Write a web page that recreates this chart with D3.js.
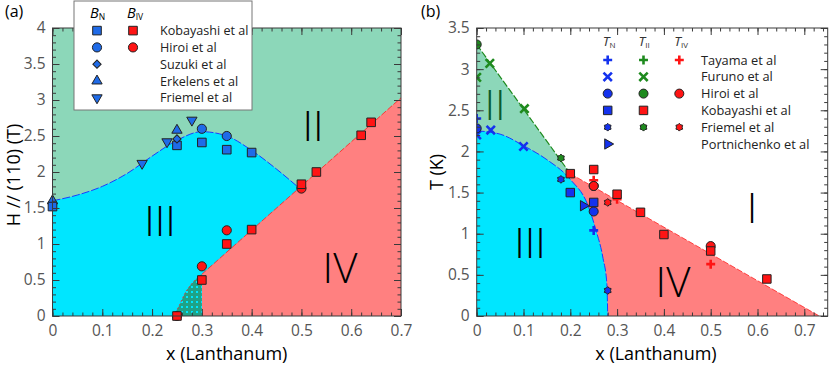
<!DOCTYPE html>
<html>
<head>
<meta charset="utf-8">
<script src="https://cdn.jsdelivr.net/npm/d3@7"></script>
<style>
body { margin: 0; background: #fff; }
text { font-family: "Open Sans", sans-serif; }
</style>
</head>
<body>
<svg id="chart" width="830" height="368"></svg>
<script>
////////////////// data, panel (a) ////////////////////
const xTicksA = [0, 0.1, 0.2, 0.3, 0.4, 0.5, 0.6, 0.7];
const hTicksA = [0, 0.5, 1, 1.5, 2, 2.5, 3, 3.5, 4];
// B_N (blue) and B_IV (red) points, [x, H]
const bnKobayashi = [[0, 1.52], [0.25, 2.37], [0.3, 2.41], [0.35, 2.31], [0.4, 2.27]];
const bnHiroi = [[0.3, 2.6], [0.35, 2.5]];
const bnSuzuki = [[0.25, 2.46]];
const bnErkelens = [[0, 1.6], [0.25, 2.58]];
const bnFriemel = [[0.18, 2.12], [0.23, 2.42], [0.28, 2.72]];
const bivKobayashi = [[0.25, 0], [0.3, 0.5], [0.35, 1.0], [0.4, 1.2], [0.5, 1.83], [0.53, 2.0], [0.62, 2.51], [0.64, 2.69]];
const bivHiroi = [[0.25, 0], [0.3, 0.69], [0.35, 1.19], [0.5, 1.77]];
// phase boundaries
const boundNA = [[0, 1.6], [0.05, 1.68], [0.1, 1.8], [0.15, 1.98], [0.2, 2.22], [0.25, 2.44], [0.3, 2.56], [0.35, 2.5], [0.4, 2.3], [0.45, 2.04], [0.495, 1.78]];
const boundIVA = [[0.3, 0.58], [0.7, 3.03]];
const boundHatchA = [[0.243, 0], [0.255, 0.15], [0.265, 0.3], [0.28, 0.45], [0.3, 0.58]];
const legendA = ["Kobayashi et al", "Hiroi et al", "Suzuki et al", "Erkelens et al", "Friemel et al"];

////////////////// data, panel (b) ////////////////////
const xTicksB = [0, 0.1, 0.2, 0.3, 0.4, 0.5, 0.6, 0.7];
const tTicksB = [0, 0.5, 1, 1.5, 2, 2.5, 3, 3.5];
// T_N (blue)
const tnTayama = [[0, 2.4], [0.25, 1.04]];
const tnFuruno = [[0, 2.2], [0.03, 2.26], [0.1, 2.06]];
const tnHiroi = [[0, 2.28], [0.25, 1.27]];
const tnKobayashi = [[0.2, 1.5], [0.25, 1.38]];
const tnFriemel = [[0.18, 1.66], [0.28, 0.31]];
const tnPortnichenko = [[0.228, 1.34]];
// T_II (green, Kobayashi in red)
const tiiTayama = [[0.25, 1.6]];
const tiiFuruno = [[0, 2.9], [0.028, 3.07], [0.102, 2.52]];
const tiiHiroi = [[0, 3.3], [0.25, 1.58]];
const tiiKobayashi = [[0.2, 1.73], [0.25, 1.78], [0.3, 1.48], [0.35, 1.26], [0.4, 0.99], [0.5, 0.79], [0.62, 0.45]];
const tiiFriemel = [[0.18, 1.92]];
// T_IV (red)
const tivTayama = [[0.25, 1.65], [0.3, 1.42], [0.5, 0.63]];
const tivHiroi = [[0.25, 1.58], [0.5, 0.85]];
const tivFriemel = [[0.28, 1.38]];
// boundaries
const boundIIB = [[0, 3.3], [0.2, 1.73]];
const boundIB = [[0.2, 1.73], [0.732, 0]];
const boundNB = [[0, 2.25], [0.05, 2.21], [0.1, 2.07], [0.15, 1.9], [0.2, 1.66], [0.238, 1.34], [0.255, 1.04], [0.27, 0.7], [0.278, 0.4], [0.28, 0]];
const legendB = ["Tayama et al", "Furuno et al", "Hiroi et al", "Kobayashi et al", "Friemel et al", "Portnichenko et al"];

////////////////// styles ////////////////////
const cGreen = "#8cd7b9", cCyan = "#00e6ff", cRed = "#ff8080";
const blueA = "#1f6be8", blueB = "#1432ee", greenB = "#1e8a1e", redM = "#ff1414";
const frameCol = "#3a3a3a", tickTextCol = "#555";

const svg = d3.select("#chart");
const defs = svg.append("defs");
const pat = defs.append("pattern").attr("id", "checks")
    .attr("patternUnits", "userSpaceOnUse").attr("width", 5).attr("height", 5);
pat.append("rect").attr("width", 5).attr("height", 5).attr("fill", "#1fa286");
pat.append("rect").attr("x", 1).attr("y", 1).attr("width", 2).attr("height", 2).attr("fill", cCyan);

// custom marker shapes
const symPlus = { draw(c, s) { const r = Math.sqrt(s) / 2; c.moveTo(-r, 0); c.lineTo(r, 0); c.moveTo(0, -r); c.lineTo(0, r); } };
const symX = { draw(c, s) { const r = Math.sqrt(s) / 2; c.moveTo(-r, -r); c.lineTo(r, r); c.moveTo(-r, r); c.lineTo(r, -r); } };
const symHex = { draw(c, s) {
    const r = Math.sqrt(s) / 2 * 1.1;
    for (let i = 0; i < 12; i++) {
        const rr = i % 2 ? r * 0.72 : r, a = i * Math.PI / 6 - Math.PI / 2;
        i ? c.lineTo(rr * Math.cos(a), rr * Math.sin(a)) : c.moveTo(rr * Math.cos(a), rr * Math.sin(a));
    }
    c.closePath();
} };

function drawPoints(g, data, x, y, type, size, fill, rot) {
    const lined = (type === symPlus || type === symX);
    g.selectAll(null).data(data).enter().append("path")
        .attr("d", d3.symbol().type(type).size(size))
        .attr("transform", d => `translate(${x(d[0])},${y(d[1])}) rotate(${rot || 0})`)
        .attr("fill", lined ? "none" : fill)
        .attr("stroke", lined ? fill : "#222")
        .attr("stroke-width", lined ? 2.6 : 1);
}

function drawFrame(g, x, y, xt, yt, xMinor, yMinor) {
    const [x0, x1] = x.range(), [y0, y1] = y.range();
    const mk = (axis, tr) => g.append("g").attr("transform", tr).call(axis)
        .call(s => s.select(".domain").remove())
        .call(s => s.selectAll("line").attr("stroke", frameCol));
    // minor ticks on all sides
    mk(d3.axisBottom(x).tickValues(xMinor).tickSize(-3.5).tickFormat(""), `translate(0,${y0})`);
    mk(d3.axisTop(x).tickValues(xMinor).tickSize(-3.5).tickFormat(""), `translate(0,${y1})`);
    mk(d3.axisLeft(y).tickValues(yMinor).tickSize(-3.5).tickFormat(""), `translate(${x0},0)`);
    mk(d3.axisRight(y).tickValues(yMinor).tickSize(-3.5).tickFormat(""), `translate(${x1},0)`);
    // major ticks
    const bx = mk(d3.axisBottom(x).tickValues(xt).tickSize(-7).tickPadding(9).tickFormat(d => d === 0 ? "0" : d3.format(".1f")(d)), `translate(0,${y0})`);
    mk(d3.axisTop(x).tickValues(xt).tickSize(-7).tickFormat(""), `translate(0,${y1})`);
    const ly = mk(d3.axisLeft(y).tickValues(yt).tickSize(-7).tickPadding(7).tickFormat(d => String(d)), `translate(${x0},0)`);
    mk(d3.axisRight(y).tickValues(yt).tickSize(-7).tickFormat(""), `translate(${x1},0)`);
    [bx, ly].forEach(s => s.selectAll("text").attr("fill", tickTextCol)
        .attr("font-size", 15.5).attr("font-family", "Open Sans, sans-serif"));
    g.append("rect").attr("x", x0).attr("y", y1).attr("width", x1 - x0).attr("height", y0 - y1)
        .attr("fill", "none").attr("stroke", frameCol).attr("stroke-width", 1);
}

const roman = (g, t, x, y, col) => g.append("text").attr("x", x).attr("y", y)
    .attr("text-anchor", "middle").attr("font-size", 42).attr("font-weight", 300)
    .attr("fill", col || "#000").text(t);
const px = v => v; // identity for legend positions given in pixels

////////////////// panel (a) ////////////////////
const xA = d3.scaleLinear([0, 0.7], [52.5, 401]);
const yA = d3.scaleLinear([0, 4], [316, 28]);
const gA = svg.append("g");
defs.append("clipPath").attr("id", "clipA").append("rect")
    .attr("x", 52.5).attr("y", 28).attr("width", 401 - 52.5).attr("height", 316 - 28);
const regA = gA.append("g").attr("clip-path", "url(#clipA)");
const lineA = d3.line().x(d => xA(d[0])).y(d => yA(d[1]));
const curveA = d3.line().x(d => xA(d[0])).y(d => yA(d[1])).curve(d3.curveMonotoneX);

regA.append("rect").attr("x", 52.5).attr("y", 28).attr("width", 401 - 52.5).attr("height", 288).attr("fill", cGreen);
regA.append("path").datum(boundNA)
    .attr("d", d3.area().x(d => xA(d[0])).y0(yA(0)).y1(d => yA(d[1])).curve(d3.curveMonotoneX))
    .attr("fill", cCyan);
regA.append("path")
    .attr("d", lineA([[0.3, 0], ...boundIVA, [0.7, 0]]) + "Z")
    .attr("fill", cRed);
regA.append("path")
    .attr("d", curveA(boundHatchA) + "L" + xA(0.3) + "," + yA(0) + "Z")
    .attr("fill", "url(#checks)");
regA.append("path").attr("d", curveA(boundNA)).attr("fill", "none")
    .attr("stroke", "#1a3cff").attr("stroke-width", 1).attr("stroke-dasharray", "8,2");
regA.append("path").attr("d", lineA(boundIVA)).attr("fill", "none")
    .attr("stroke", "#ff2020").attr("stroke-width", 0.8).attr("stroke-dasharray", "6,2");
regA.append("path").attr("d", curveA(boundHatchA)).attr("fill", "none")
    .attr("stroke", "#ff2020").attr("stroke-width", 0.8).attr("stroke-dasharray", "2,2");

roman(gA, "III", 160, 236);
roman(gA, "II", 313, 141);
roman(gA, "IV", 340, 283);

const mA = gA.append("g");
drawPoints(mA, bnFriemel, xA, yA, d3.symbolTriangle, 46, blueA, 180);
drawPoints(mA, bnErkelens, xA, yA, d3.symbolTriangle, 46, blueA);
drawPoints(mA, bnKobayashi, xA, yA, d3.symbolSquare, 74, blueA);
drawPoints(mA, bnSuzuki, xA, yA, d3.symbolSquare, 34, blueA, 45);
drawPoints(mA, bnHiroi, xA, yA, d3.symbolCircle, 66, blueA);
drawPoints(mA, bivHiroi, xA, yA, d3.symbolCircle, 66, redM);
drawPoints(mA, bivKobayashi, xA, yA, d3.symbolSquare, 74, redM);

drawFrame(gA, xA, yA, xTicksA, hTicksA, d3.range(0, 0.7001, 0.02), d3.range(0, 4.001, 0.1));

// legend (a)
const legA = gA.append("g");
legA.append("rect").attr("x", 74).attr("y", 1).attr("width", 178).attr("height", 109)
    .attr("fill", "#fff").attr("stroke", "#777");
[["B", "N", 96], ["B", "IV", 133]].forEach(h => {
    const t = legA.append("text").attr("x", h[2] - 6).attr("y", 18).attr("font-size", 14.5);
    t.append("tspan").attr("font-style", "italic").text(h[0]);
    t.append("tspan").attr("font-size", 8.5).attr("dy", 2).text(h[1]);
});
const rowsA = [30.6, 47.4, 64.2, 81, 97.8];
legendA.forEach((n, i) => legA.append("text").attr("x", 160).attr("y", rowsA[i]).attr("dy", "0.36em")
    .attr("font-size", 12.6).attr("fill", "#222").text(n));
drawPoints(legA, [[97, rowsA[0]]], px, px, d3.symbolSquare, 74, blueA);
drawPoints(legA, [[133, rowsA[0]]], px, px, d3.symbolSquare, 74, redM);
drawPoints(legA, [[97, rowsA[1]]], px, px, d3.symbolCircle, 66, blueA);
drawPoints(legA, [[133, rowsA[1]]], px, px, d3.symbolCircle, 66, redM);
drawPoints(legA, [[97, rowsA[2]]], px, px, d3.symbolSquare, 34, blueA, 45);
drawPoints(legA, [[97, rowsA[3]]], px, px, d3.symbolTriangle, 46, blueA);
drawPoints(legA, [[97, rowsA[4]]], px, px, d3.symbolTriangle, 46, blueA, 180);

gA.append("text").attr("x", 5).attr("y", 17).attr("font-size", 16).text("(a)");
gA.append("text").attr("x", xA(0.35)).attr("y", 360).attr("text-anchor", "middle")
    .attr("font-size", 18).text("x (Lanthanum)");
gA.append("text").attr("transform", "translate(20,175) rotate(-90)").attr("text-anchor", "middle")
    .attr("font-size", 18).text("H // (110) (T)");

////////////////// panel (b) ////////////////////
const xB = d3.scaleLinear([0, 0.75], [476.7, 827.7]);
const yB = d3.scaleLinear([0, 3.5], [316, 28]);
const gB = svg.append("g");
defs.append("clipPath").attr("id", "clipB").append("rect")
    .attr("x", 476.7).attr("y", 28).attr("width", 351).attr("height", 288);
const regB = gB.append("g").attr("clip-path", "url(#clipB)");
const lineB = d3.line().x(d => xB(d[0])).y(d => yB(d[1]));
const curveB = d3.line().x(d => xB(d[0])).y(d => yB(d[1])).curve(d3.curveMonotoneX);

regB.append("path").attr("d", lineB([[0, 0], ...boundIIB, [0.2, 0]]) + "Z").attr("fill", cGreen);
regB.append("path").attr("d", lineB([...boundIB, [0.2, 0]]) + "Z").attr("fill", cRed);
regB.append("path").datum(boundNB)
    .attr("d", d3.area().x(d => xB(d[0])).y0(yB(0)).y1(d => yB(d[1])).curve(d3.curveMonotoneX))
    .attr("fill", cCyan);
regB.append("path").attr("d", lineB(boundIIB)).attr("fill", "none")
    .attr("stroke", greenB).attr("stroke-width", 1.2).attr("stroke-dasharray", "7,2");
regB.append("path").attr("d", lineB(boundIB)).attr("fill", "none")
    .attr("stroke", "#ff2020").attr("stroke-width", 0.8).attr("stroke-dasharray", "6,2");
regB.append("path").attr("d", curveB(boundNB)).attr("fill", "none")
    .attr("stroke", "#1a3cff").attr("stroke-width", 1).attr("stroke-dasharray", "8,2");

roman(gB, "II", 495, 120, "#0b5a2c");
roman(gB, "III", 530, 258);
roman(gB, "IV", 673, 297);
roman(gB, "I", 752, 223);

const mB = gB.append("g").attr("clip-path", "url(#clipB)");
drawPoints(mB, tnFuruno, xB, yB, symX, 70, blueB);
drawPoints(mB, tnTayama, xB, yB, symPlus, 80, blueB);
drawPoints(mB, tnHiroi, xB, yB, d3.symbolCircle, 64, blueB);
drawPoints(mB, tnFriemel, xB, yB, symHex, 50, blueB);
drawPoints(mB, tnKobayashi, xB, yB, d3.symbolSquare, 72, blueB);
drawPoints(mB, tnPortnichenko, xB, yB, d3.symbolTriangle, 46, blueB, 90);
drawPoints(mB, tiiFuruno, xB, yB, symX, 70, greenB);
drawPoints(mB, tiiTayama, xB, yB, symPlus, 80, greenB);
drawPoints(mB, tiiHiroi, xB, yB, d3.symbolCircle, 64, greenB);
drawPoints(mB, tiiFriemel, xB, yB, symHex, 50, greenB);
drawPoints(mB, tivTayama, xB, yB, symPlus, 80, redM);
drawPoints(mB, tivHiroi, xB, yB, d3.symbolCircle, 64, redM);
drawPoints(mB, tivFriemel, xB, yB, symHex, 50, redM);
drawPoints(mB, tiiKobayashi, xB, yB, d3.symbolSquare, 72, redM);

drawFrame(gB, xB, yB, xTicksB, tTicksB, d3.range(0, 0.7501, 0.02), d3.range(0, 3.501, 0.1));

// legend (b)
const legB = gB.append("g");
const colsB = [607.7, 643.5, 679.3];
[["N", 0], ["II", 1], ["IV", 2]].forEach(h => {
    const t = legB.append("text").attr("x", colsB[h[1]] - 5).attr("y", 46).attr("font-size", 13.5).attr("fill", "#333");
    t.append("tspan").attr("font-style", "italic").text("T");
    t.append("tspan").attr("font-size", 8).attr("dy", 2).text(h[0]);
});
const rowsB = [60, 76.8, 93.6, 110.4, 127.2, 144];
legendB.forEach((n, i) => legB.append("text").attr("x", 701).attr("y", rowsB[i]).attr("dy", "0.36em")
    .attr("font-size", 12.8).attr("fill", "#222").text(n));
const pt = (c, r) => [[colsB[c], rowsB[r]]];
drawPoints(legB, pt(0, 0), px, px, symPlus, 80, blueB);
drawPoints(legB, pt(1, 0), px, px, symPlus, 80, greenB);
drawPoints(legB, pt(2, 0), px, px, symPlus, 80, redM);
drawPoints(legB, pt(0, 1), px, px, symX, 70, blueB);
drawPoints(legB, pt(1, 1), px, px, symX, 70, greenB);
drawPoints(legB, pt(0, 2), px, px, d3.symbolCircle, 64, blueB);
drawPoints(legB, pt(1, 2), px, px, d3.symbolCircle, 64, greenB);
drawPoints(legB, pt(2, 2), px, px, d3.symbolCircle, 64, redM);
drawPoints(legB, pt(0, 3), px, px, d3.symbolSquare, 72, blueB);
drawPoints(legB, pt(1, 3), px, px, d3.symbolSquare, 72, redM);
drawPoints(legB, pt(0, 4), px, px, symHex, 50, blueB);
drawPoints(legB, pt(1, 4), px, px, symHex, 50, greenB);
drawPoints(legB, pt(2, 4), px, px, symHex, 50, redM);
drawPoints(legB, pt(0, 5), px, px, d3.symbolTriangle, 46, blueB, 90);

gB.append("text").attr("x", 421).attr("y", 17).attr("font-size", 16).text("(b)");
gB.append("text").attr("x", 656).attr("y", 360).attr("text-anchor", "middle")
    .attr("font-size", 18).text("x (Lanthanum)");
gB.append("text").attr("transform", "translate(443,172) rotate(-90)").attr("text-anchor", "middle")
    .attr("font-size", 18).text("T (K)");
</script>
</body>
</html>
